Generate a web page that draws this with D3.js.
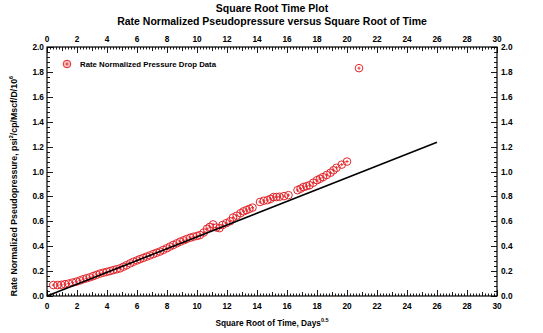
<!DOCTYPE html>
<html><head><meta charset="utf-8">
<script src="https://cdn.jsdelivr.net/npm/d3@7"></script>
<style>body{margin:0;background:#fff}svg{display:block;font-family:"Liberation Sans",Arial,sans-serif}</style>
</head><body><div id="chart"></div>
<script>
const sqrtTime = [0.42,0.7,0.95,1.2,1.45,1.7,1.95,2.2,2.42,2.64,2.86,3.08,3.3,3.53,3.75,3.98,4.2,4.42,4.65,4.87,5.1,5.3,5.55,5.76,6.0,6.2,6.42,6.64,6.86,7.09,7.3,7.53,7.75,7.98,8.2,8.42,8.65,8.87,9.1,9.3,9.55,9.76,10.0,10.2,10.45,10.67,10.85,11.07,11.3,11.5,11.7,11.95,12.2,12.4,12.65,12.9,13.1,13.3,13.5,13.7,14.2,14.45,14.7,14.9,15.1,15.3,15.5,15.8,16.1,16.7,16.9,17.1,17.3,17.5,17.75,18.0,18.2,18.4,18.65,18.9,19.1,19.3,19.65,20.0,20.8];
const pressureDrop = [0.088,0.088,0.09,0.095,0.1,0.108,0.115,0.125,0.135,0.142,0.15,0.16,0.17,0.18,0.187,0.194,0.2,0.208,0.215,0.222,0.235,0.247,0.262,0.275,0.286,0.296,0.306,0.316,0.326,0.337,0.347,0.357,0.37,0.383,0.397,0.41,0.423,0.436,0.447,0.457,0.468,0.476,0.482,0.49,0.51,0.54,0.555,0.575,0.55,0.545,0.57,0.585,0.6,0.63,0.645,0.665,0.68,0.69,0.70,0.71,0.755,0.765,0.77,0.78,0.795,0.795,0.797,0.802,0.81,0.85,0.862,0.875,0.882,0.89,0.91,0.93,0.942,0.955,0.972,0.99,1.01,1.03,1.055,1.08,1.83];
const fitX = [0, 26];
const fitY = [0, 1.235];
const xTicks = [0,2,4,6,8,10,12,14,16,18,20,22,24,26,28,30];
const yTicks = [0.0,0.2,0.4,0.6,0.8,1.0,1.2,1.4,1.6,1.8,2.0];
const titles = ["Square Root Time Plot","Rate Normalized Pseudopressure versus Square Root of Time"];
const legendLabel = "Rate Normalized Pressure Drop Data";

const W=543,H=333;
const L=47,R=497,T=47,B=296;
const svg=d3.select("#chart").append("svg").attr("width",W).attr("height",H);
const x=d3.scaleLinear().domain([0,30]).range([L,R]);
const y=d3.scaleLinear().domain([0,2]).range([B,T]);
const red="#e3262b";

svg.append("text").attr("x",272).attr("y",12).attr("text-anchor","middle").attr("font-size",10.5).attr("font-weight","bold").text(titles[0]);
svg.append("text").attr("x",272).attr("y",25).attr("text-anchor","middle").attr("font-size",10.5).attr("font-weight","bold").text(titles[1]);

svg.append("rect").attr("x",L).attr("y",T).attr("width",R-L).attr("height",B-T).attr("fill","none").attr("stroke","#000").attr("stroke-width",1.2);

const xMinor=d3.range(0,30.001,0.2);
const yMinor=d3.range(0,2.0001,0.04);
function xlen(v){const r=Math.round(v*10)/10; if(Math.abs(r%2)<1e-6) return 6; if(Math.abs(r%1)<1e-6) return 4; return 2.5;}
function ylen(v){const r=Math.round(v*100)/100; if(Math.abs((r*10)%2)<1e-6) return 6; return 3;}
const g=svg.append("g").attr("stroke","#000").attr("stroke-width",0.9);
xMinor.forEach(v=>{const px=Math.round(x(v))+0.5,l=xlen(v);
  g.append("line").attr("x1",px).attr("x2",px).attr("y1",B).attr("y2",B-l);
  g.append("line").attr("x1",px).attr("x2",px).attr("y1",T).attr("y2",T+l);});
yMinor.forEach(v=>{const py=Math.round(y(v))+0.5,l=ylen(v);
  g.append("line").attr("y1",py).attr("y2",py).attr("x1",L).attr("x2",L+l);
  g.append("line").attr("y1",py).attr("y2",py).attr("x1",R).attr("x2",R-l);});

xTicks.forEach(v=>{
  svg.append("text").attr("x",x(v)).attr("y",B+13).attr("text-anchor","middle").attr("font-size",8.3).attr("font-weight","bold").text(v);
  svg.append("text").attr("x",x(v)).attr("y",T-5).attr("text-anchor","middle").attr("font-size",8.3).attr("font-weight","bold").text(v);
});
yTicks.forEach(v=>{
  svg.append("text").attr("x",L-3).attr("y",y(v)+3).attr("text-anchor","end").attr("font-size",8.3).attr("font-weight","bold").text(v.toFixed(1));
  svg.append("text").attr("x",R+4).attr("y",y(v)+3).attr("text-anchor","start").attr("font-size",8.3).attr("font-weight","bold").text(v.toFixed(1));
});

const xt=svg.append("text").attr("x",272).attr("y",326).attr("text-anchor","middle").attr("font-size",8.3).attr("font-weight","bold");
xt.append("tspan").text("Square Root of Time, Days");
xt.append("tspan").attr("font-size",5.5).attr("dy",-4).text("0.5");
const yt=svg.append("text").attr("transform",`translate(17,186) rotate(-90)`).attr("text-anchor","middle").attr("font-size",8.8).attr("font-weight","bold");
yt.append("tspan").text("Rate Normalized Pseudopressure, psi");
yt.append("tspan").attr("font-size",5.5).attr("dy",-4).text("2");
yt.append("tspan").attr("dy",4).text("/cp/Mscf/D/10");
yt.append("tspan").attr("font-size",5.5).attr("dy",-4).text("6");

function marker(sel){
  sel.append("circle").attr("r",3.8).attr("fill","none").attr("stroke",red).attr("stroke-width",1);
  sel.append("path").attr("d","M-1.6,0H1.6M0,-1.6V1.6").attr("stroke",red).attr("stroke-width",0.9);
}
const pts=svg.append("g");
sqrtTime.forEach((v,i)=>{
  const m=pts.append("g").attr("transform",`translate(${x(v)},${y(pressureDrop[i])})`);
  marker(m);
});

svg.append("path").datum(fitX.map((v,i)=>[v,fitY[i]]))
  .attr("d",d3.line().x(d=>x(d[0])).y(d=>y(d[1])))
  .attr("stroke","#000").attr("stroke-width",1.6).attr("fill","none");

const lg=svg.append("g").attr("transform","translate(67,64)");
marker(lg);
lg.select("circle").attr("fill","#f7c5c5");
svg.append("text").attr("x",80).attr("y",67).attr("font-size",7.8).attr("font-weight","bold").text(legendLabel);
</script></body></html>
